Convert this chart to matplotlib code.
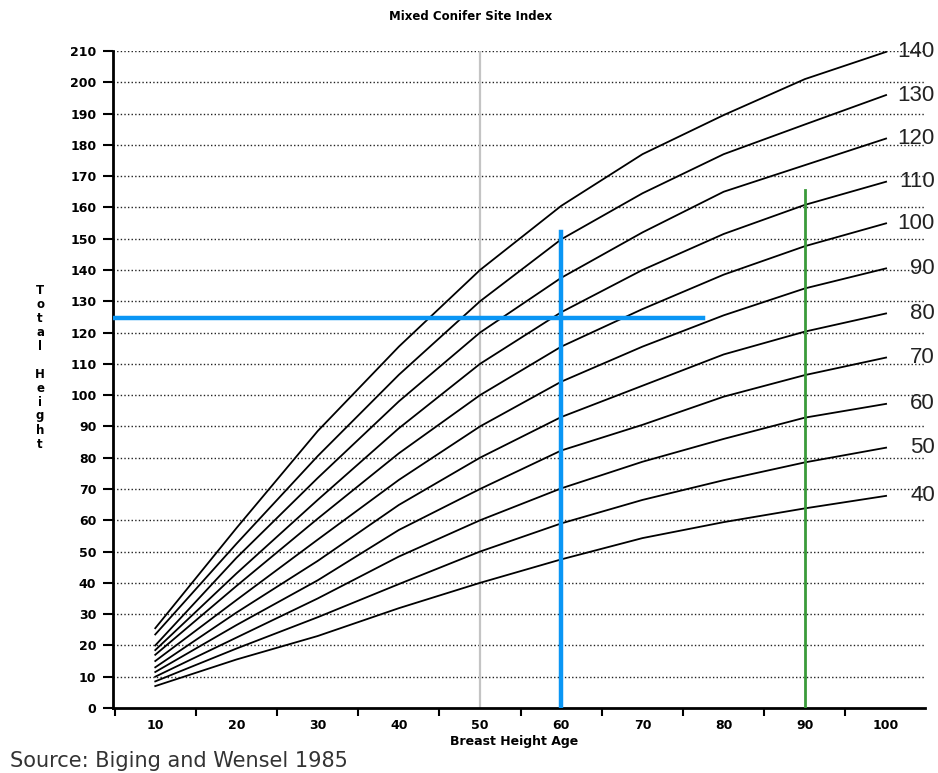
import matplotlib
matplotlib.use("Agg")
import matplotlib.pyplot as plt

# breast height age (years)
ages = [10, 20, 30, 40, 50, 60, 70, 80, 90, 100]

# total height for each site index curve
h40 = [7, 15.5, 23, 31.9, 40, 47.5, 54.3, 59.4, 63.8, 67.8]
h50 = [8.5, 19, 29, 39.6, 50, 59, 66.5, 72.8, 78.5, 83.2]
h60 = [10, 22.5, 35, 48.4, 60, 70.2, 78.7, 86, 92.8, 97.2]
h70 = [11.5, 26.5, 40.8, 56.9, 70, 82.3, 90.5, 99.5, 106.4, 112]
h80 = [13, 30.5, 47, 64.9, 80, 93, 103, 113, 120.3, 126.1]
h90 = [15, 34.5, 53.8, 72.9, 90, 104.3, 115.5, 125.5, 134.1, 140.5]
h100 = [17, 39, 60.5, 81.4, 100, 115.5, 127.5, 138.5, 147.6, 154.9]
h110 = [18.5, 43, 66.5, 89.4, 110, 126.5, 140, 151.5, 160.8, 168.2]
h120 = [20, 48, 73.5, 98, 120, 137.5, 152, 165, 173.5, 182]
h130 = [23.5, 52.5, 80.5, 106.5, 130, 149.8, 164.5, 177, 186.5, 195.9]
h140 = [25.5, 57.5, 88.5, 115.5, 140, 160.5, 177, 189.5, 201, 209.7]

site_index = [40, 50, 60, 70, 80, 90, 100, 110, 120, 130, 140]
curves = [h40, h50, h60, h70, h80, h90, h100, h110, h120, h130, h140]

# guide lines drawn over the chart
base_age = 50
blue_age = 60
blue_top = 152
blue_height = 124.5
blue_end = 77.5
green_age = 90
green_top = 165.5

y_ticks = list(range(0, 211, 10))
x_labels = [10, 20, 30, 40, 50, 60, 70, 80, 90, 100]

fig = plt.figure(figsize=(9.38, 7.73), dpi=100)
ax = fig.add_axes([0.1205, 0.0841, 0.8657, 0.85])

ax.set_xlim(4.8, 104.8)
ax.set_ylim(0, 210)

# dotted horizontal grid
for v in y_ticks[1:]:
    ax.axhline(v, color="#222222", lw=1.0, ls=(0, (1, 1.6)), zorder=1)

ax.axvline(base_age, color="#c4c4c4", lw=1.6, zorder=2)

for si, h in zip(site_index, curves):
    ax.plot(ages, h, color="black", lw=1.3, zorder=3)
    ax.text(106.0, h[-1], str(si), ha="right", va="center", fontsize=16,
            color="#222222", family="Liberation Sans", clip_on=False, zorder=5)

ax.plot([blue_age, blue_age], [0, blue_top], color="#0a96f5", lw=3.2, zorder=4)
ax.plot([4.8, blue_end], [blue_height, blue_height], color="#0a96f5", lw=3.2, zorder=4)
ax.plot([green_age, green_age], [0, green_top], color="#3a9a3a", lw=2.0, zorder=4)

for s in ["top", "right"]:
    ax.spines[s].set_visible(False)
ax.spines["left"].set_linewidth(2)
ax.spines["bottom"].set_linewidth(2)

tick_font = {"family": "DejaVu Sans", "weight": "bold", "size": 9}

ax.set_yticks(y_ticks)
ax.set_yticklabels([str(v) for v in y_ticks], fontdict=tick_font)
ax.tick_params(axis="y", direction="out", length=7, width=1.5, pad=5,
               colors="black")

ax.set_xticks(x_labels)
ax.set_xticklabels([str(v) for v in x_labels], fontdict=tick_font)
ax.set_xticks([5, 15, 25, 35, 45, 55, 65, 75, 85, 95], minor=True)
ax.tick_params(axis="x", which="major", length=0, pad=8)
ax.tick_params(axis="x", which="minor", direction="out", length=6, width=1.5)

fig.text(471 / 938, 1 - 16 / 773, "Mixed Conifer Site Index", ha="center",
         va="center", fontsize=8.5, fontweight="bold")
fig.text(514 / 938, 1 - 742 / 773, "Breast Height Age", ha="center",
         va="center", fontsize=9, fontweight="bold")
fig.text(40 / 938, 1 - 367 / 773, "\n".join("Total Height"), ha="center",
         va="center", fontsize=8.5, fontweight="bold", linespacing=1.1)
fig.text(10 / 938, 1 - 761 / 773, "Source: Biging and Wensel 1985", ha="left",
         va="center", fontsize=15, color="#333333")

fig.savefig("out.png", dpi=100)
